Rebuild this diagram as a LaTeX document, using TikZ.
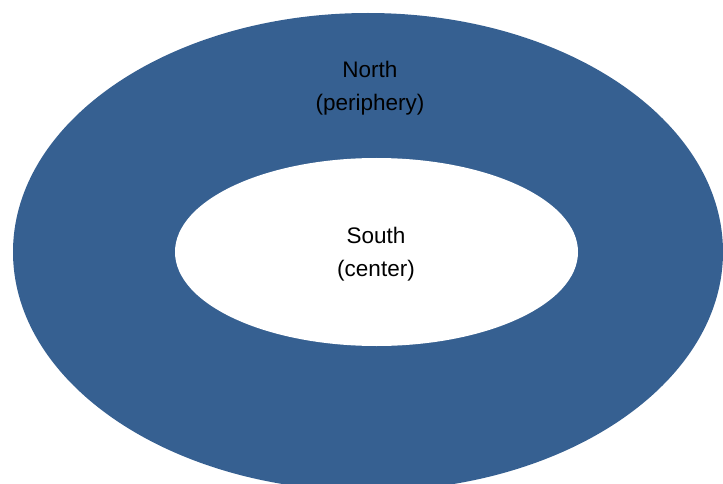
\documentclass[tikz,border=0pt]{standalone}
\usepackage{fontspec}
\setmainfont{Liberation Sans}
\definecolor{ringblue}{RGB}{54,96,145}
\tikzset{
  lbl/.style={align=center, text=black, font=\fontsize{22.5}{33}\selectfont, inner sep=0pt}
}
\begin{document}
\begin{tikzpicture}[x=1pt,y=-1pt]
\useasboundingbox (0,0) rectangle (723,484);
\clip (0,0) rectangle (723,484);
\fill[white] (0,0) rectangle (723,484);
\fill[ringblue] (368,252) ellipse [x radius=355pt, y radius=239pt];
\fill[white] (376.5,252) ellipse [x radius=201.5pt, y radius=94pt];
\node[lbl] (north) at (370,88.5) {North\\(periphery)};
\node[lbl] (south) at (376,254.5) {South\\(center)};
\end{tikzpicture}
\end{document}
